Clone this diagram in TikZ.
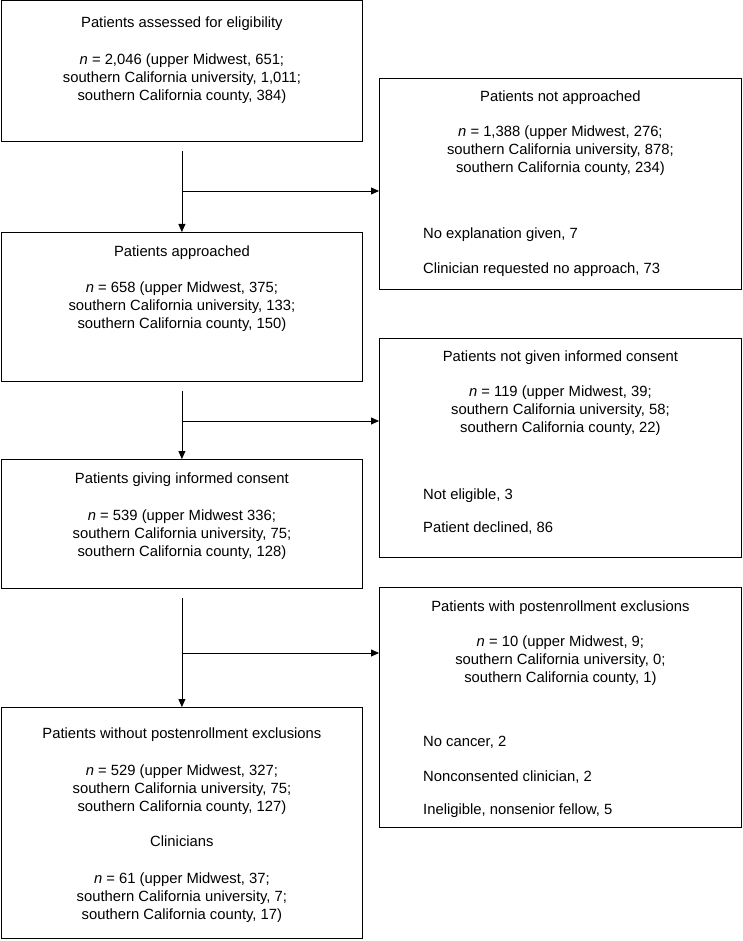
\documentclass[tikz,border=0pt]{standalone}
\usepackage{fontspec}
\setmainfont{Liberation Sans}
\usepackage{tikz}
\usetikzlibrary{positioning,arrows.meta,calc}

\begin{document}
\begin{tikzpicture}[
  x=1pt, y=-1pt,
  box/.style={draw, line width=0.8pt, anchor=north west, inner sep=0pt},
  lbox/.style={box, minimum width=361pt},
  rbox/.style={box, minimum width=362pt},
  txt/.style={font=\fontsize{14.8}{18}\selectfont, align=center, inner sep=0pt, anchor=north},
  why/.style={txt, align=left, anchor=north west},
  arr/.style={-{Triangle[length=8pt,width=7pt]}, line width=0.8pt}]
  \useasboundingbox (0,0) rectangle (742,941);
  % main column
  \node[lbox, minimum height=141pt] (b1) at (1,0.5) {};
  \node[lbox, minimum height=149pt] (b2) at (1,232) {};
  \node[lbox, minimum height=129pt] (b3) at (1,459) {};
  \node[lbox, minimum height=231pt] (b4) at (1,707) {};
  % exclusions
  \node[rbox, minimum height=211pt] (r1) at (379,78) {};
  \node[rbox, minimum height=219pt] (r2) at (379,338) {};
  \node[rbox, minimum height=240pt] (r3) at (379,587) {};

  \node[txt, below=16pt of b1.north] (t1) {Patients assessed for eligibility};
  \node[txt, below=53pt of b1.north] (n1) {\textit{n} = 2,046 (upper Midwest, 651;\\southern California university, 1,011;\\southern California county, 384)};

  \node[txt, below=13pt of r1.north] (tr1) {Patients not approached};
  \node[txt, below=48pt of r1.north] (nr1) {\textit{n} = 1,388 (upper Midwest, 276;\\southern California university, 878;\\southern California county, 234)};
  \node[why] (w1) at ($(r1.north west)+(44,150)$) {No explanation given, 7\\[17pt]Clinician requested no approach, 73};

  \node[txt, below=14pt of b2.north] (t2) {Patients approached};
  \node[txt, below=50pt of b2.north] (n2) {\textit{n} = 658 (upper Midwest, 375;\\southern California university, 133;\\southern California county, 150)};

  \node[txt, below=13pt of r2.north] (tr2) {Patients not given informed consent};
  \node[txt, below=48pt of r2.north] (nr2) {\textit{n} = 119 (upper Midwest, 39;\\southern California university, 58;\\southern California county, 22)};
  \node[why] (w2) at ($(r2.north west)+(44,151)$) {Not eligible, 3\\[15pt]Patient declined, 86};

  \node[txt, below=14pt of b3.north] (t3) {Patients giving informed consent};
  \node[txt, below=51pt of b3.north] (n3) {\textit{n} = 539 (upper Midwest 336;\\southern California university, 75;\\southern California county, 128)};

  \node[txt, below=14pt of r3.north] (tr3) {Patients with postenrollment exclusions};
  \node[txt, below=49pt of r3.north] (nr3) {\textit{n} = 10 (upper Midwest, 9;\\southern California university, 0;\\southern California county, 1)};
  \node[why] (w3) at ($(r3.north west)+(44,149)$) {No cancer, 2\\[17pt]Nonconsented clinician, 2\\[15pt]Ineligible, nonsenior fellow, 5};

  \node[txt, below=21pt of b4.north] (t4) {Patients without postenrollment exclusions};
  \node[txt, below=58pt of b4.north] (n4) {\textit{n} = 529 (upper Midwest, 327;\\southern California university, 75;\\southern California county, 127)};
  \node[txt, below=129pt of b4.north] (c4) {Clinicians};
  \node[txt, below=166pt of b4.north] (m4) {\textit{n} = 61 (upper Midwest, 37;\\southern California university, 7;\\southern California county, 17)};

  % connectors
  \coordinate (s1) at ([yshift=-9pt]b1.south);
  \coordinate (s2) at ([yshift=-9pt]b2.south);
  \coordinate (s3) at ([yshift=-9pt]b3.south);
  \coordinate (j1) at (s1 |- 0,191);
  \coordinate (j2) at (s2 |- 0,421);
  \coordinate (j3) at (s3 |- 0,653);
  \draw[arr] (s1) -- (b2.north);
  \draw[arr] (s2) -- (b3.north);
  \draw[arr] (s3) -- (b4.north);
  \draw[arr] (j1) -- (j1 -| r1.west);
  \draw[arr] (j2) -- (j2 -| r2.west);
  \draw[arr] (j3) -- (j3 -| r3.west);
\end{tikzpicture}
\end{document}
